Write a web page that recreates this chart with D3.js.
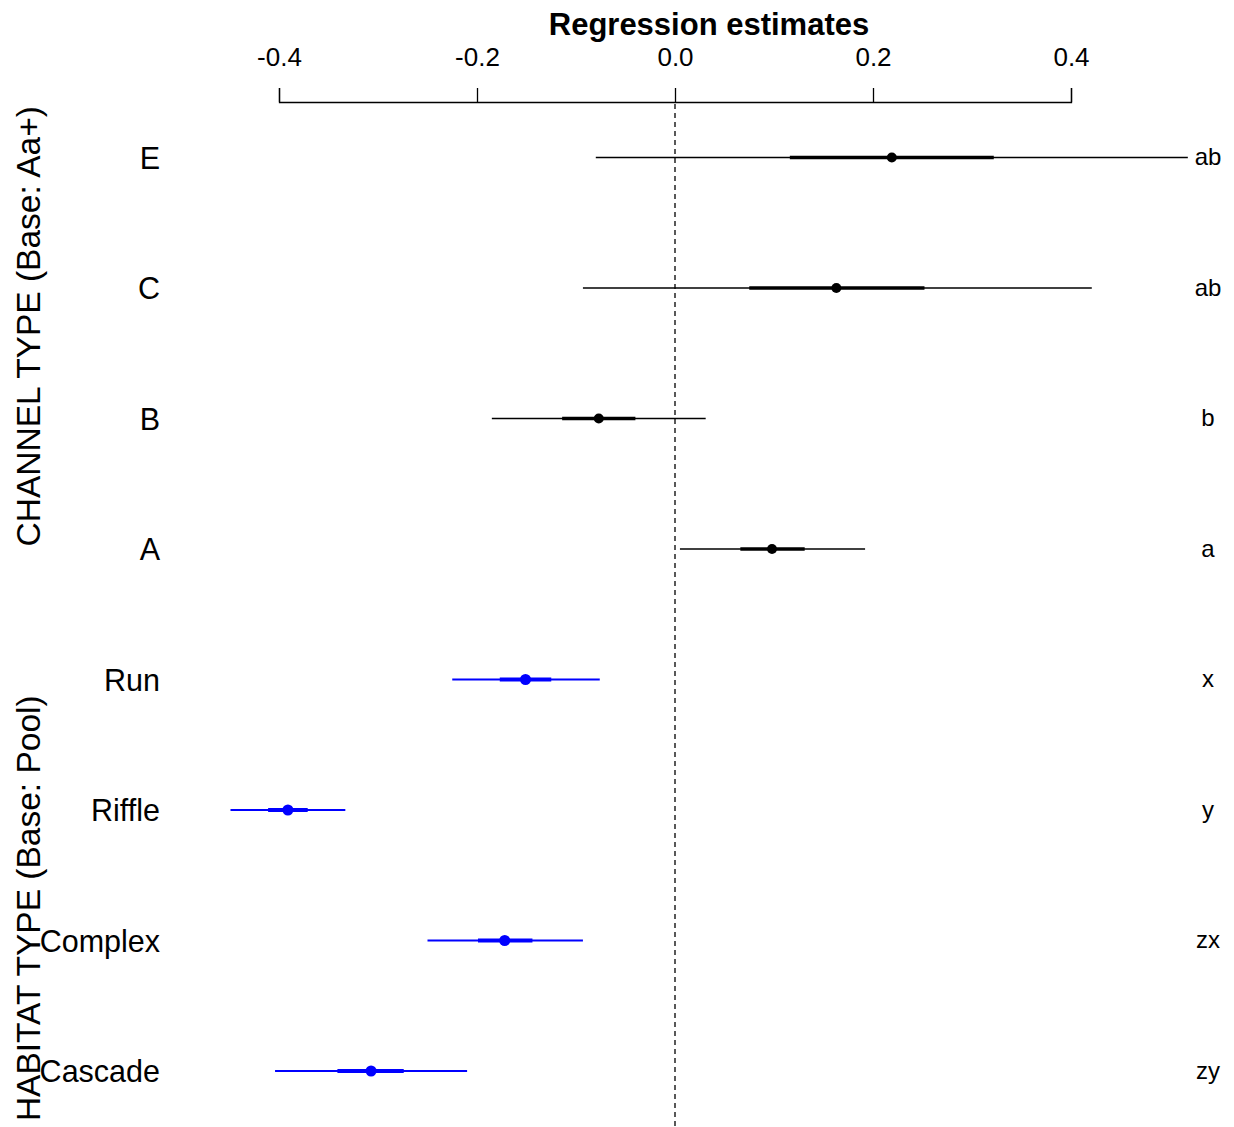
<!DOCTYPE html>
<html><head><meta charset="utf-8">
<script src="https://cdn.jsdelivr.net/npm/d3@7"></script>
<style>body{margin:0;background:#fff}svg{display:block;font-family:"Liberation Sans",Arial,sans-serif}</style>
</head><body>
<svg id="c" width="1234" height="1127"></svg>
<script>
const labels = ["E","C","B","A","Run","Riffle","Complex","Cascade"];
const groups = ["channel","channel","channel","channel","habitat","habitat","habitat","habitat"];
const est  = [0.219, 0.163, -0.077, 0.098, -0.151, -0.391, -0.172, -0.307];
const lo95 = [-0.080, -0.093, -0.185, 0.005, -0.225, -0.449, -0.250, -0.404];
const hi95 = [0.518, 0.421, 0.031, 0.192, -0.076, -0.333, -0.093, -0.210];
const lo50 = [0.116, 0.075, -0.114, 0.066, -0.177, -0.411, -0.199, -0.341];
const hi50 = [0.322, 0.252, -0.040, 0.131, -0.125, -0.371, -0.144, -0.274];
const letters = ["ab","ab","b","a","x","y","zx","zy"];
const tickVals = [-0.4, -0.2, 0.0, 0.2, 0.4];
const groupTitles = ["CHANNEL TYPE (Base: Aa+)", "HABITAT TYPE (Base: Pool)"];

const svg = d3.select("#c");
const x = d3.scaleLinear().domain([-0.4, 0.4]).range([279, 1071]);
const y = d3.scalePoint().domain(labels).range([157.5, 1071]);
const color = g => g === "channel" ? "#000000" : "#0000ff";

const rows = labels.map((l,i)=>({l, g:groups[i], e:est[i], lo:lo95[i], hi:hi95[i], l5:lo50[i], h5:hi50[i], t:letters[i]}));

// title
svg.append("text").attr("x",709).attr("y",35).attr("text-anchor","middle")
  .attr("font-weight","bold").attr("font-size",31).text("Regression estimates");

// axis
const ax = svg.append("g").attr("transform","translate(0,102)")
  .call(d3.axisTop(x).tickValues(tickVals).tickSize(14).tickPadding(22)
    .tickFormat(d => d3.format(".1f")(d).replace("\u2212","-")));
ax.selectAll("path,line").attr("stroke","#000").attr("stroke-width",1.3);
ax.selectAll("text").attr("font-size",26).attr("fill","#000").attr("font-family","Liberation Sans, Arial, sans-serif");

// zero dashed line
svg.append("line").attr("x1",x(0)).attr("x2",x(0)).attr("y1",104).attr("y2",1127)
  .attr("stroke","#000").attr("stroke-width",1.3).attr("stroke-dasharray","5,4");

const r = svg.append("g").selectAll("g").data(rows).join("g");
r.append("line").attr("x1",d=>x(d.lo)).attr("x2",d=>x(d.hi)).attr("y1",d=>y(d.l)).attr("y2",d=>y(d.l))
  .attr("stroke",d=>color(d.g)).attr("stroke-width",d=>d.g==="channel"?1.4:2);
r.append("line").attr("x1",d=>x(d.l5)).attr("x2",d=>x(d.h5)).attr("y1",d=>y(d.l)).attr("y2",d=>y(d.l))
  .attr("stroke",d=>color(d.g)).attr("stroke-width",d=>d.g==="channel"?3.5:4);
r.append("circle").attr("cx",d=>x(d.e)).attr("cy",d=>y(d.l)).attr("r",d=>d.g==="channel"?5:5.5)
  .attr("fill",d=>color(d.g));
r.append("text").attr("x",160).attr("y",d=>y(d.l)).attr("dy","0.37em").attr("text-anchor","end")
  .attr("font-size",30.5).attr("fill","#000").text(d=>d.l);
r.append("text").attr("x",1208).attr("y",d=>y(d.l)).attr("dy","0.33em").attr("text-anchor","middle")
  .attr("font-size",24).attr("fill","#000").text(d=>d.t);

// group titles
const gc = [ (y("E")+y("A"))/2 - 27, (y("Run")+y("Cascade"))/2 + 33 ];
groupTitles.forEach((t,i)=>{
  svg.append("text").attr("transform",`translate(40,${gc[i]}) rotate(-90)`)
    .attr("text-anchor","middle").attr("font-size",33.5).attr("fill","#000").text(t);
});
</script>
</body></html>
